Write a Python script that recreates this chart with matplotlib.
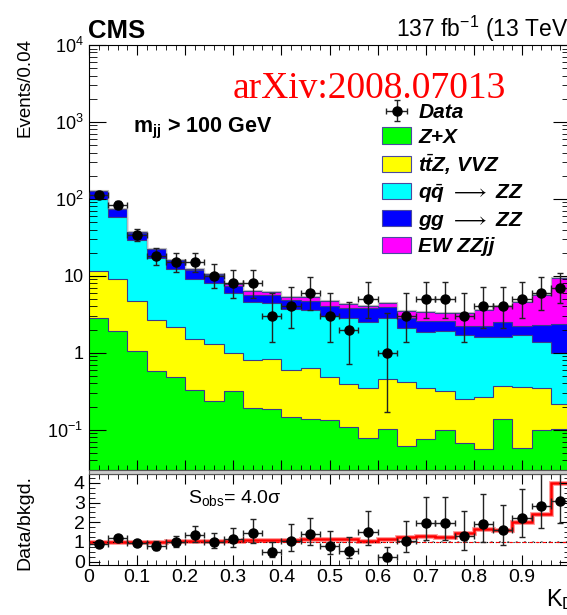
import numpy as np
import matplotlib.pyplot as plt
from matplotlib.patches import Patch, Rectangle
from matplotlib.ticker import MultipleLocator, FixedLocator, NullFormatter

plt.rcParams['font.family'] = ['Liberation Sans', 'DejaVu Sans']
plt.rcParams['mathtext.fontset'] = 'custom'
plt.rcParams['mathtext.rm'] = 'Liberation Sans'
plt.rcParams['mathtext.it'] = 'Liberation Sans:italic:bold'
plt.rcParams['mathtext.bf'] = 'Liberation Sans:bold'
plt.rcParams['hatch.linewidth'] = 0.6

# binning: 25 bins of 0.04 in K_D
bin_width = 0.04
edges = np.arange(26) * bin_width
centers = edges[:-1] + bin_width / 2

# stacked expectations per bin
z_plus_x = [2.8, 1.9, 1.06, 0.575, 0.48, 0.33, 0.24, 0.32, 0.19, 0.185, 0.146, 0.14, 0.132,
            0.108, 0.079, 0.102, 0.061, 0.076, 0.098, 0.067, 0.056, 0.138, 0.058, 0.1, 0.102]
ttz_vvz = [8.8, 7.3, 3.64, 2.13, 1.7, 1.17, 1.06, 0.66, 0.62, 0.635, 0.454, 0.49, 0.358,
           0.282, 0.274, 0.348, 0.359, 0.274, 0.222, 0.183, 0.209, 0.232, 0.297, 0.245, 0.113]
qq_zz = [88.4, 49.8, 24.2, 14.6, 10.2, 7.7, 6.8, 4.92, 3.79, 3.68, 3.06, 2.97, 2.51,
         2.41, 2.18, 2.35, 1.65, 1.53, 1.58, 1.43, 1.355, 1.23, 1.345, 1.045, 0.765]
gg_zz = [26, 14, 7.5, 4.8, 3.5, 2.6, 2.1, 1.4, 1.1, 1.1, 1.14, 1.1, 1.04,
         0.97, 1.24, 1.08, 0.73, 0.72, 0.7, 0.57, 0.58, 0.95, 0.55, 0.91, 1.36]
ew_zzjj = [1.2, 0.9, 0.6, 0.4, 0.4, 0.4, 0.4, 0.5, 0.6, 0.6, 0.5, 0.6, 0.66,
           0.53, 0.27, 0.62, 0.7, 0.75, 0.7, 1.05, 1.4, 1.55, 2.3, 3.3, 7.06]

# observed events and their (Poisson) error bars
data_obs = [114, 84, 34, 18, 15, 15, 10, 8, 8, 3, 4, 6, 3, 2, 5, 1, 3, 5, 5, 3, 4, 4, 5, 6, 7]
err_lo = [10.7, 9.2, 5.8, 4.2, 3.8, 3.8, 3.1, 2.77, 2.77, 1.63, 1.91, 2.38, 1.63,
          1.29, 2.16, 0.83, 1.63, 2.16, 2.16, 1.63, 1.91, 1.91, 2.16, 2.38, 2.58]
err_hi = [11.7, 10.2, 6.9, 5.3, 4.9, 4.9, 4.3, 3.95, 3.95, 2.92, 3.16, 3.58, 2.92,
          2.64, 3.38, 2.30, 2.92, 3.38, 3.38, 2.92, 3.16, 3.16, 3.38, 3.58, 3.77]

# data / background in lower panel
ratio = [0.90, 1.22, 0.93, 0.80, 0.98, 1.36, 1.02, 1.14, 1.44, 0.51, 1.07, 1.39, 0.80,
         0.55, 1.53, 0.22, 1.05, 1.95, 1.95, 1.31, 1.91, 1.61, 2.20, 2.83, 3.08]

labels = ['Z+X', r'$t\bar{t}$Z, VVZ', r'$q\bar{q}$ $\longrightarrow$ ZZ',
          r'gg $\longrightarrow$ ZZ', 'EW ZZjj']
colors = ['#00ff00', '#ffff00', '#00ffff', '#0000ff', '#ff00ff']
edge_col = '#3a3a8c'

W, H = 567, 615
fig = plt.figure(figsize=(W / 100, H / 100), dpi=100)
ax = fig.add_axes([89 / W, 1 - 470 / H, 481 / W, 425 / H])
rax = fig.add_axes([89 / W, 1 - 565 / H, 481 / W, 91 / H])

# ---------------- main panel
layers = [z_plus_x, ttz_vvz, qq_zz, gg_zz, ew_zzjj]
cum = np.zeros(len(centers))
tops = []
for vals, c in zip(layers, colors):
    top = cum + np.array(vals)
    ax.stairs(top, edges, baseline=np.maximum(cum, 1e-3), fill=True, color=c, lw=0)
    tops.append(top)
    cum = top
for top in tops:
    ax.stairs(top, edges, baseline=None, color=edge_col, lw=0.8)
ax.stairs(tops[-1] * 1.03, edges, baseline=None, color='#bbbbbb', lw=0.8)

eb = ax.errorbar(centers, data_obs, yerr=[err_lo, err_hi], xerr=bin_width / 2, fmt='o',
                 color='black', ecolor='#222222', ms=6.5, lw=1, capsize=2, capthick=1, zorder=5)

ax.set_yscale('log')
ax.set_xlim(0, 1)
ax.set_ylim(0.03, 1e4)
ax.yaxis.set_major_locator(FixedLocator([0.1, 1, 10, 100, 1000, 10000]))
ax.set_yticklabels([r'$10^{-1}$', '1', '10', r'$10^{2}$', r'$10^{3}$', r'$10^{4}$'])
ax.xaxis.set_major_locator(MultipleLocator(0.1))
ax.xaxis.set_minor_locator(MultipleLocator(0.02))
ax.xaxis.set_major_formatter(NullFormatter())
ax.tick_params(which='both', direction='in', top=True, right=True, labelsize=13, pad=4)
ax.tick_params(axis='y', which='major', length=12)
ax.tick_params(axis='y', which='minor', length=6)
ax.tick_params(axis='x', which='major', length=7)
ax.tick_params(axis='x', which='minor', length=3.5)

handles = [eb] + [Patch(facecolor=c, edgecolor='#4a4aa0', lw=0.8) for c in colors]
ax.legend(handles, ['Data'] + labels, loc='upper left',
          bbox_to_anchor=(382 / W, 1 - 103 / H), bbox_transform=fig.transFigure,
          frameon=False, borderpad=0, borderaxespad=0, handlelength=1.4,
          handleheight=0.82, handletextpad=0.35, labelspacing=0.24,
          prop={'weight': 'bold', 'style': 'italic', 'size': 15})

ax.text(133 / W, 1 - 128 / H, r'm$_{\mathbf{jj}}$ > 100 GeV', transform=fig.transFigure,
        fontsize=15.5, fontweight='bold', va='center', ha='left')
fig.text(369 / W, 1 - 98 / H, 'arXiv:2008.07013', color='red', family='Liberation Serif',
         fontsize=27, ha='center', va='baseline')
fig.text(88 / W, 1 - 38 / H, 'CMS', fontsize=18.5, fontweight='bold', va='baseline')
fig.text(575 / W, 1 - 37 / H, r'137 fb$^{-1}$ (13 TeV)', fontsize=16.5, ha='right', va='baseline')
fig.text(0.044, 1 - 38 / H, 'Events/0.04', rotation=90, fontsize=13.5, ha='center', va='top')

# ---------------- ratio panel
bkgd = tops[3]
rax.axhspan(0.96, 1.04, facecolor='none', edgecolor='#888888', hatch='xxxx', lw=0)
rax.axhline(1, color='black', ls=':', lw=0.8)
rax.axhline(1, color='red', ls=(0, (3, 3)), lw=0.8)
rax.stairs(tops[-1] / bkgd, edges, baseline=None, color='#ff9999', lw=3.5)
rax.stairs(tops[-1] / bkgd, edges, baseline=None, color='red', lw=1.8)

scale = np.array(ratio) / np.array(data_obs)
rax.errorbar(centers, ratio, yerr=[np.array(err_lo) * scale, np.array(err_hi) * scale],
             xerr=bin_width / 2, fmt='o', color='black', ecolor='#222222', ms=6.5, lw=1,
             capsize=2, capthick=1, zorder=5)

rax.set_xlim(0, 1)
rax.set_ylim(-0.17, 4.45)
rax.set_yticks([0, 1, 2, 3, 4])
rax.yaxis.set_minor_locator(MultipleLocator(0.25))
rax.set_xticks([0, 0.1, 0.2, 0.3, 0.4, 0.5, 0.6, 0.7, 0.8, 0.9])
rax.set_xticklabels(['0', '0.1', '0.2', '0.3', '0.4', '0.5', '0.6', '0.7', '0.8', '0.9'])
rax.xaxis.set_minor_locator(MultipleLocator(0.02))
rax.tick_params(which='both', direction='in', top=True, right=True, labelsize=14, pad=3)
rax.tick_params(axis='y', which='major', length=8)
rax.tick_params(axis='y', which='minor', length=4)
rax.tick_params(axis='x', which='major', length=7)
rax.tick_params(axis='x', which='minor', length=3.5)

rax.text(188 / W, 1 - 498 / H, r'S$_{\mathrm{obs}}$= 4.0σ', transform=fig.transFigure,
         fontsize=14, va='center', ha='left')
fig.text(0.044, 1 - 522 / H, 'Data/bkgd.', rotation=90, fontsize=14, ha='center', va='center')
fig.text(575 / W, 1 - 600 / H, r'K$_{\mathrm{D}}$', fontsize=17, ha='right', va='center')

# grey strip between the panels
fig.patches.append(Rectangle((89 / W, 1 - 474 / H), 481 / W, 4 / H, transform=fig.transFigure,
                             facecolor='#cccccc', edgecolor='#555555', lw=0.8))

plt.savefig('out.png', dpi=100)
